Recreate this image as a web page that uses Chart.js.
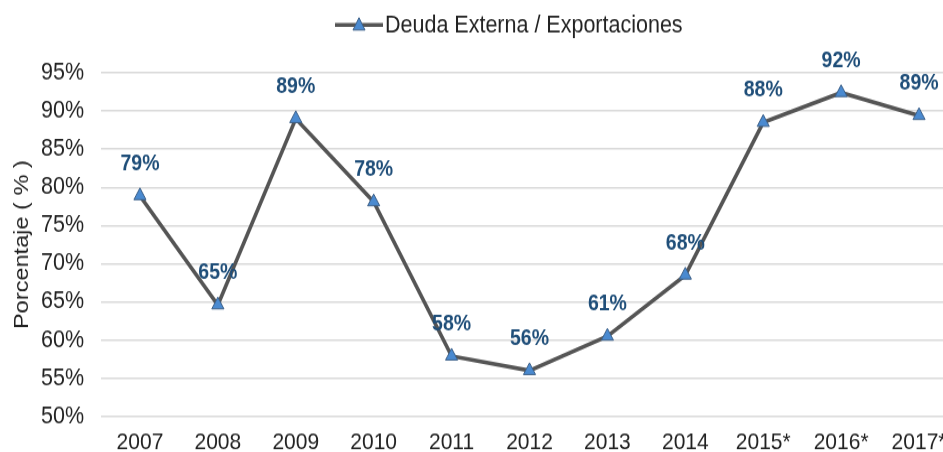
<!DOCTYPE html>
<html>
<head>
<meta charset="utf-8">
<script src="https://cdn.jsdelivr.net/npm/chart.js@4/dist/chart.umd.min.js"></script>
<style>
  html, body { margin: 0; padding: 0; background: #fff; overflow: hidden; }
  #wrap { width: 943px; height: 452px; position: relative; overflow: hidden; }
  /* the reference is slightly stretched vertically */
  #chart { transform: scaleY(1.12); transform-origin: 0 0; }
</style>
</head>
<body>
<div id="wrap"><canvas id="chart" width="966" height="411"></canvas></div>
<script>
// data
const years = ["2007", "2008", "2009", "2010", "2011", "2012", "2013", "2014", "2015*", "2016*", "2017*"];
const ratio = [78.9, 64.6, 89.0, 78.1, 57.9, 56.0, 60.5, 68.5, 88.5, 92.4, 89.4];
const labels = ["79%", "65%", "89%", "78%", "58%", "56%", "61%", "68%", "88%", "92%", "89%"];
const seriesName = "Deuda Externa / Exportaciones";
const yTitle = "Porcentaje ( % )";

const lineColor = "#555555";
const markerColor = "#4a8ad0";
const labelColor = "#1f4e79";
const font = "'Liberation Sans', Arial, sans-serif";

// data labels above each point
const pointLabels = {
  id: "pointLabels",
  afterDatasetsDraw(chart) {
    const ctx = chart.ctx;
    const meta = chart.getDatasetMeta(0);
    ctx.save();
    ctx.font = "bold 19.5px " + font;
    ctx.fillStyle = labelColor;
    ctx.textAlign = "center";
    ctx.textBaseline = "middle";
    meta.data.forEach((pt, i) => {
      ctx.fillText(labels[i], pt.x, pt.y - 28.5);
    });
    ctx.restore();
  }
};

// legend: line segment with triangle + text
const lineLegend = {
  id: "lineLegend",
  afterDraw(chart) {
    const ctx = chart.ctx;
    ctx.save();
    const x0 = 335, sw = 48, y = 22.3;
    ctx.strokeStyle = lineColor;
    ctx.lineWidth = 3.5;
    ctx.beginPath();
    ctx.moveTo(x0, y);
    ctx.lineTo(x0 + sw, y);
    ctx.stroke();
    const cx = x0 + sw / 2;
    ctx.fillStyle = markerColor;
    ctx.strokeStyle = "#3c5f87";
    ctx.lineWidth = 1;
    ctx.beginPath();
    ctx.moveTo(cx, y - 6.5);
    ctx.lineTo(cx + 6, y + 4.5);
    ctx.lineTo(cx - 6, y + 4.5);
    ctx.closePath();
    ctx.fill();
    ctx.stroke();
    ctx.font = "21.5px " + font;
    ctx.fillStyle = "#222";
    ctx.textBaseline = "middle";
    ctx.fillText(seriesName, x0 + sw + 2, y + 1);
    ctx.restore();
  }
};

new Chart(document.getElementById("chart"), {
  type: "line",
  data: {
    labels: years,
    datasets: [{
      label: seriesName,
      data: ratio,
      borderColor: lineColor,
      borderWidth: 3.6,
      tension: 0,
      pointStyle: "triangle",
      pointRadius: 7,
      pointHoverRadius: 7,
      pointBackgroundColor: markerColor,
      pointBorderColor: "#3c5f87",
      pointBorderWidth: 1
    }]
  },
  options: {
    responsive: false,
    animation: false,
    layout: { padding: { top: 65, right: 0, left: 10, bottom: 0 } },
    plugins: {
      legend: { display: false },
      tooltip: { enabled: false }
    },
    scales: {
      x: {
        offset: true,
        grid: { display: false },
        border: { display: false },
        ticks: {
          color: "#222",
          font: { family: font, size: 21 },
          maxRotation: 0,
          autoSkip: false,
          padding: 3
        }
      },
      y: {
        min: 50,
        max: 95,
        border: { display: false },
        grid: { color: "#d9d9d9", lineWidth: 1.5, drawTicks: false },
        afterFit: (s) => { s.width = 91; },
        ticks: {
          stepSize: 5,
          color: "#222",
          padding: 17,
          font: { family: font, size: 21.5 },
          callback: (v) => v + "%"
        },
        title: {
          display: true,
          text: yTitle,
          color: "#222",
          font: { family: font, size: 21 },
          padding: { top: 0, bottom: 5 }
        }
      }
    }
  },
  plugins: [pointLabels, lineLegend]
});
</script>
</body>
</html>
